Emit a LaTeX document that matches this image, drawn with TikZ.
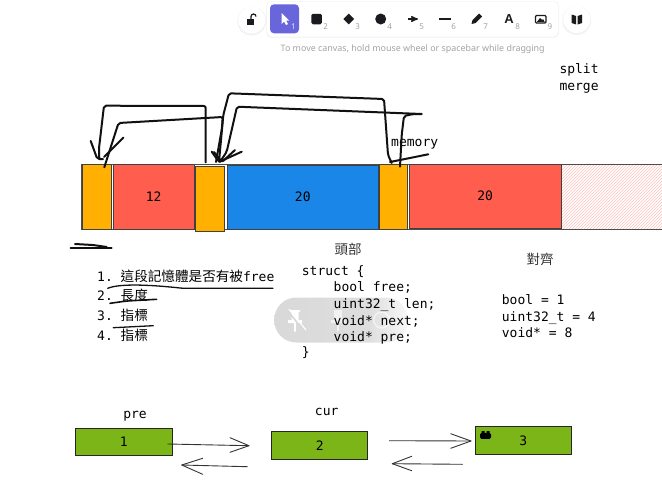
\documentclass[tikz,border=0pt]{standalone}
\usepackage{fontspec}
\setmainfont{Noto Sans}
\setmonofont{DejaVu Sans Mono}
\newfontfamily\cjk{Noto Sans CJK TC}
\newfontfamily\iconfont{Liberation Sans}
\usetikzlibrary{arrows,patterns,shapes.geometric}
\definecolor{cheader}{HTML}{FFB000}
\definecolor{cused}{HTML}{FF5E4F}
\definecolor{cfree}{HTML}{1A86E8}
\definecolor{clist}{HTML}{7CB518}
\definecolor{cpurple}{HTML}{6965DB}
\definecolor{cicon}{HTML}{1B1B1F}
\definecolor{chint}{HTML}{A3A3A8}
\definecolor{cink}{HTML}{111111}
\pgfdeclarehorizontalshading{pillfade}{100bp}{color(0bp)=(black!15); color(25bp)=(black!15); color(60bp)=(black!13); color(75bp)=(black!3); color(100bp)=(black!3)}
\begin{document}
\begin{tikzpicture}[x=1pt,y=-1pt,
  block node/.style={draw=black!75,line width=0.7pt,inner sep=0pt,text height=9.5pt,text depth=0pt,font=\ttfamily\fontsize{13}{13}\selectfont},
  header node/.style={block node,fill=cheader},
  used node/.style={block node,fill=cused},
  free node/.style={block node,fill=cfree},
  list node/.style={block node,fill=clist,draw=black!85},
  label node/.style={font=\ttfamily\fontsize{13}{16}\selectfont,inner sep=0pt,anchor=base west},
  cjk node/.style={font=\cjk\fontsize{13.5}{13.5}\selectfont,text=black!80,inner sep=0pt},
  icon node/.style={fill=cicon,inner sep=0pt},
  num node/.style={font=\fontsize{8}{8}\selectfont,text=chint,inner sep=0pt},
  pen/.style={cink,line width=2pt,line cap=round,line join=round,rounded corners=2pt},
  fine/.style={black!80,line width=0.9pt,line cap=round,line join=round}]
  \useasboundingbox (0,0) rectangle (662,498);

  % toolbar
  \foreach \cx/\cy in {251.7/20,576.7/19.5} {
    \fill[black!5] (\cx,\cy+1) circle (14.5);
    \fill[white] (\cx,\cy) circle (13.5);
  }
  \fill[black!4,rounded corners=5pt] (266,1) rectangle (559,38);
  \fill[white,rounded corners=5pt] (267,1.5) rectangle (558,36.5);
  \node[fill=cpurple,rounded corners=4pt,minimum width=29pt,minimum height=29pt] (sel) at (284.5,18.8) {};
  \fill[white] (281.5,13) -- (281.5,24) -- (284,21.5) -- (286,25) -- (288,24) -- (286,20.5) -- (289,20.5) -- cycle;
  \node[num node,text=white!85!cpurple] (n1) at (293.5,27) {1};
  \node[icon node,rounded corners=1.5pt,minimum width=10.5pt,minimum height=10.5pt] (irect) at (316.7,19) {};
  \node[num node] (n2) at (325.7,27) {2};
  \node[icon node,diamond,minimum width=11pt,minimum height=11pt] (idia) at (348.7,19) {};
  \node[num node] (n3) at (357.7,27) {3};
  \node[icon node,circle,minimum size=11pt] (icirc) at (380.7,19) {};
  \node[num node] (n4) at (389.7,27) {4};
  \draw[cicon,line width=1.4pt,-{stealth'}] (408,19) -- (418,19);
  \node[num node] (n5) at (421.7,27) {5};
  \draw[cicon,line width=1.4pt] (439,19) -- (451,19);
  \node[num node] (n6) at (453.7,27) {6};
  \fill[cicon] (471.5,24) -- (472.5,20) -- (479,13.5) -- (482,16.5) -- (475.5,23) -- cycle;
  \node[num node] (n7) at (485.7,27) {7};
  \node[font=\iconfont\bfseries\fontsize{13}{13}\selectfont,text=cicon,inner sep=0pt] (ia) at (509,19) {A};
  \node[num node] (n8) at (517.7,27) {8};
  \draw[cicon,line width=1.1pt,rounded corners=1pt] (535.5,15.5) rectangle (546,23);
  \fill[cicon] (537,21.8) -- (540,18) -- (542,20) -- (543,19) -- (544.7,21.8) -- cycle;
  \node[num node] (n9) at (550,27) {9};
  \fill[cicon] (251.7,18) ++(-5,1) rectangle ++(7,5.5);
  \draw[cicon,line width=1.2pt] (251,19) -- (251,16.5) arc (180:0:2.5pt);
  \fill[cicon] (571.5,14.5) -- (576,16) -- (576,24.5) -- (571.5,23) -- cycle;
  \fill[cicon] (582,14.5) -- (577.5,16) -- (577.5,24.5) -- (582,23) -- cycle;
  \node[font=\fontsize{8.9}{10}\selectfont,text=chint,inner sep=0pt] (hint) at (412.7,49)
    {To move canvas, hold mouse wheel or spacebar while dragging};

  \node[label node] (split) at (559.3,73) {split};
  \node[label node] (merge) at (559.3,90) {merge};

  % memory
  \fill[pattern=north east lines,pattern color=cused!38] (562,164) rectangle (662,229.5);
  \draw[black!70,line width=0.7pt] (81,164) -- (662,164) (81,229.5) -- (662,229.5) (81,164) -- (81,229.5);
  \node[header node,minimum width=29pt,minimum height=65pt] (h1) at (97.2,196.5) {};
  \node[used node,minimum width=81pt,minimum height=65pt] (b1) at (153.7,196.5) {12};
  \node[header node,minimum width=29pt,minimum height=65pt] (h2) at (210.2,198.5) {};
  \node[free node,minimum width=151pt,minimum height=64pt] (b2) at (302.8,197) {20};
  \node[header node,minimum width=28.5pt,minimum height=65.5pt] (h3) at (393.2,197) {};
  \node[used node,minimum width=152pt,minimum height=64pt] (b3) at (485.2,196.2) {20};
  \node[label node] (memory) at (391,146.7) {memory};

  % hand drawn links
  \coordinate (a1) at (205.7,162.3);
  \coordinate (a2) at (99.3,159);
  \coordinate (b4) at (104.3,167.3);
  \coordinate (b5) at (216,162);
  \coordinate (c1) at (391.7,163);
  \coordinate (c2) at (219,161.7);
  \coordinate (d1) at (421.7,114);
  \coordinate (d2) at (220,162);
  \coordinate (e1) at (400,166.7);
  \draw[pen] (a1) -- (205.7,106) -- (104,105.7) -- (99,148.3) -- (a2);
  \draw[pen] (90.7,141) -- (97.3,159) -- (103,159);
  \draw[pen] (b4) -- (118.5,123) -- (222.7,117) -- (222,128) -- (b5);
  \draw[pen] (104,157) -- (123.3,137.7);
  \draw[pen] (c1) -- (388,155) -- (384,99) -- (229,93.3) -- (223.3,115) -- (c2);
  \draw[pen] (d1) -- (237,106.7) -- (226.7,151.7) -- (d2);
  \draw[pen] (211.7,151.7) -- (219,162) -- (241.7,151.7);
  \draw[pen] (214,152) -- (222,162) -- (235,150);
  \draw[pen] (e1) -- (401.7,135) -- (404,116) -- (413.3,114) -- (d1);
  \draw[pen] (390,162) -- (428.3,154.3);

  % notes
  \draw[pen] (75,244) -- (93,245) -- (106.7,247);
  \draw[pen] (70.7,248.3) -- (111.7,248.3);
  \node[label node] (item1) at (97,281) {1. {\cjk\fontsize{13.6}{13.6}\selectfont 這段記憶體是否有被}free};
  \node[label node] (item2) at (97,300.7) {2. {\cjk\fontsize{13.6}{13.6}\selectfont 長度}};
  \node[label node] (item3) at (97,320.5) {3. {\cjk\fontsize{13.6}{13.6}\selectfont 指標}};
  \node[label node] (item4) at (97,340) {4. {\cjk\fontsize{13.6}{13.6}\selectfont 指標}};
  \draw[pen,line width=1.3pt] (107.7,288.3) .. controls (118.3,284) and (143,284) .. (183,288.3) -- (273,288.3);
  \draw[pen,line width=1.6pt] (110,303.3) -- (126.7,301) -- (156.7,299.3);
  \draw[pen,line width=1.3pt] (113.3,327.7) -- (153.3,325.7);

  \node[cjk node] (head) at (348,249) {頭部};
  \node[cjk node] (align) at (540,259) {對齊};

  \path[shading=pillfade,rounded corners=22pt] (274.3,297.5) rectangle (408,342.5);
  \fill[white] (290,310) rectangle (300,312) (291.5,312) rectangle (298.5,320) (288,320) rectangle (302,323) (294.2,323) rectangle (295.8,331.5);
  \draw[black!15,line width=1.6pt] (287,310) -- (304,331);
  \draw[white,line width=1.2pt] (289,309) -- (306,330);
  \fill[white,opacity=.6] (334,310) rectangle (342,320) (331,320) rectangle (345,323) (337.2,323) rectangle (338.8,331);
  \draw[white,line width=1.4pt,opacity=.6] (381.7,320) circle (8);

  \node[label node] (s1) at (301.7,275) {struct \{};
  \node[label node] (s2) at (333.5,291.7) {bool free;};
  \node[label node] (s3) at (333.5,308.3) {uint32\_t len;};
  \node[label node] (s4) at (333.5,325) {void* next;};
  \node[label node] (s5) at (333.5,341) {void* pre;};
  \node[label node] (s6) at (301.7,356) {\}};

  \node[label node] (t1) at (501.7,304.3) {bool = 1};
  \node[label node] (t2) at (501.7,321) {uint32\_t = 4};
  \node[label node] (t3) at (501.7,337.3) {void* = 8};

  % list
  \node[label node,anchor=base] (prelabel) at (135,418.3) {pre};
  \node[label node,anchor=base] (curlabel) at (326.7,415.7) {cur};
  \node[list node,minimum width=96.7pt,minimum height=27pt] (pre) at (123.7,441.8) {1};
  \node[list node,minimum width=96pt,minimum height=27.3pt] (cur) at (319.7,445.3) {2};
  \node[list node,minimum width=96.7pt,minimum height=27.6pt] (next) at (523.3,440.5) {3};
  \fill[black,rounded corners=1.5pt] (480,438.8) rectangle (491,432.8);
  \fill[black] (481.5,433) rectangle (484.5,431) (486.5,433) rectangle (489.5,431);

  \coordinate (p1) at (167.7,444);
  \coordinate (p2) at (249,445.7);
  \coordinate (p3) at (247.3,466.7);
  \coordinate (p4) at (181.7,465);
  \coordinate (q1) at (389.3,440.7);
  \coordinate (q2) at (471,441);
  \coordinate (q3) at (462.3,464.3);
  \coordinate (q4) at (392.3,463.7);
  \draw[fine] (p1) -- (p2);
  \draw[fine] (230,437.7) -- (p2) -- (230,452.3);
  \draw[fine] (p3) -- (p4);
  \draw[fine] (202.7,458.3) -- (p4) -- (202.7,474.3);
  \draw[fine] (q1) -- (q2);
  \draw[fine] (450.7,433.7) -- (q2) -- (450.7,448.3);
  \draw[fine] (q3) -- (q4);
  \draw[fine] (411.7,456.3) -- (q4) -- (411.7,470.7);
\end{tikzpicture}
\end{document}
